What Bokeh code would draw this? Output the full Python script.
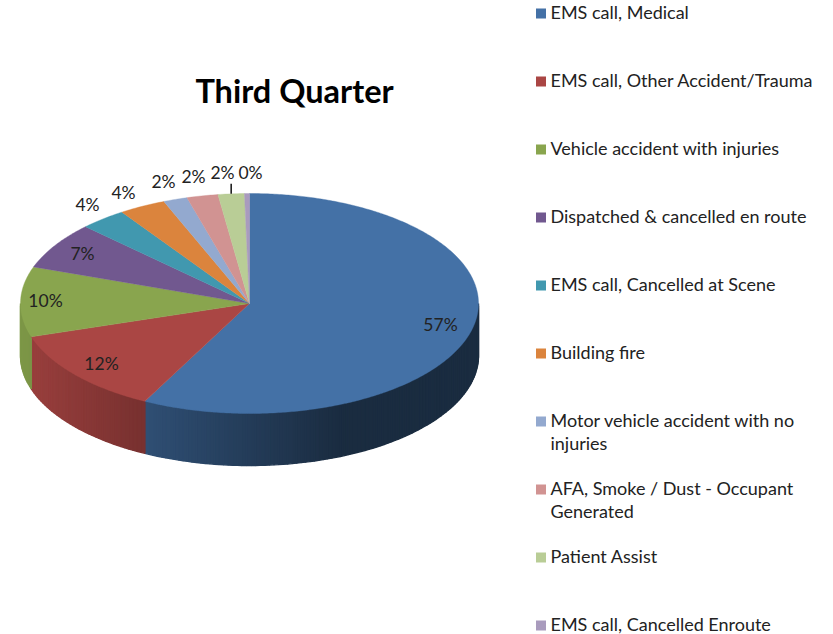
import math
from bokeh.plotting import figure
from bokeh.models import Range1d
from bokeh.core.properties import value
from bokeh.embed import file_html
from bokeh.resources import INLINE

# ---- data ----
title = "Third Quarter"
categories = ["EMS call, Medical", "EMS call, Other Accident/Trauma",
              "Vehicle accident with injuries", "Dispatched & cancelled en route",
              "EMS call, Cancelled at Scene", "Building fire",
              "Motor vehicle accident with no\ninjuries",
              "AFA, Smoke / Dust - Occupant\nGenerated",
              "Patient Assist", "EMS call, Cancelled Enroute"]
shares = [57.55, 12.55, 10.3, 6.9, 3.3, 3.3, 1.7, 2.2, 1.85, 0.35]
pct_labels = ["57%", "12%", "10%", "7%", "4%", "4%", "2%", "2%", "2%", "0%"]
colors = ["#4471A6", "#AA4644", "#89A54E", "#71588F", "#4198AF",
          "#DB843D", "#93A9CF", "#D19392", "#B9CD96", "#A99BBD"]

# ---- layout (page pixels) ----
W, H = 833, 634
CX, CY, RX, RY, DEPTH = 249.0, 303.0, 229.0, 110.0, 52.0
label_xy = [(440, 324), (101, 363), (45, 300), (82, 253), (87, 204),
            (123, 192), (163, 181), (193, 176), (222, 172), (250, 172)]

p = figure(width=W, height=H, output_backend="svg", toolbar_location=None,
           x_axis_type=None, y_axis_type=None, min_border=0,
           x_range=Range1d(0, W), y_range=Range1d(H, 0))
p.outline_line_color = None
p.background_fill_color = "white"
p.grid.visible = False


def pt(theta, dy=0.0):
    return CX + RX * math.sin(theta), CY - RY * math.cos(theta) + dy


def hexrgb(c):
    return tuple(int(c[i:i + 2], 16) for i in (1, 3, 5))


def shade(c, x):
    # lighting of the wall, varying from left to right
    if x < 146:
        m = 0.90 - (x - 30) / 116 * 0.20
    elif x < 340:
        m = 0.70 - (x - 146) / 194 * 0.31
    else:
        m = 0.39
    return "#%02x%02x%02x" % tuple(int(v * m) for v in hexrgb(c))


total = sum(shares)
edges = [0.0]
for s in shares:
    edges.append(edges[-1] + s / total * 2 * math.pi)

# side wall: lower half only, split in narrow facets for the shading
wall_x, wall_y, wall_c = [], [], []
for i, c in enumerate(colors):
    a0, a1 = max(edges[i], math.pi / 2), min(edges[i + 1], 3 * math.pi / 2)
    if a1 <= a0:
        continue
    n = max(2, int((a1 - a0) / 0.02))
    for k in range(n):
        t0 = a0 + (a1 - a0) * k / n
        t1 = a0 + (a1 - a0) * (k + 1) / n
        x0, y0 = pt(t0)
        x1, y1 = pt(t1)
        wall_x.append([x0, x1, x1, x0])
        wall_y.append([y0, y1, y1 + DEPTH, y0 + DEPTH])
        wall_c.append(shade(c, (x0 + x1) / 2))
p.patches(wall_x, wall_y, fill_color=wall_c, line_color=wall_c, line_width=1.4)

# top face
top_x, top_y = [], []
for i in range(len(shares)):
    n = max(2, int((edges[i + 1] - edges[i]) / 0.01))
    pts = [pt(edges[i] + (edges[i + 1] - edges[i]) * k / n) for k in range(n + 1)]
    top_x.append([CX] + [q[0] for q in pts])
    top_y.append([CY] + [q[1] for q in pts])
p.patches(top_x, top_y, fill_color=colors, line_color=colors, line_width=0.4)

# leader line of the "2%" label
lead_x, lead_y = pt((edges[8] + edges[9]) / 2)
p.segment([lead_x], [lead_y - 10], [lead_x], [lead_y], line_color="#111111", line_width=1.5)

# data labels
p.text([q[0] for q in label_xy], [q[1] for q in label_xy], text=pct_labels,
       text_font=value("Lato"), text_font_size="17.5px", text_color="#222222",
       text_align="center", text_baseline="middle")

# title
p.text([294], [90], text=[title], text_font=value("Lato"), text_font_size="32.5px",
       text_font_style="bold", text_color="#000000",
       text_align="center", text_baseline="middle")

# legend
leg_y = [13 + 68 * i for i in range(len(categories))]
p.rect([540.5] * len(categories), leg_y, width=10, height=10,
       fill_color=colors, line_color=None)
p.text([550] * len(categories), [y - 13 for y in leg_y], text=categories,
       text_font=value("Lato"), text_font_size="18px", text_color="#222222",
       text_align="left", text_baseline="top", text_line_height=1.05)

open("out.html", "w").write(file_html(p, INLINE))
